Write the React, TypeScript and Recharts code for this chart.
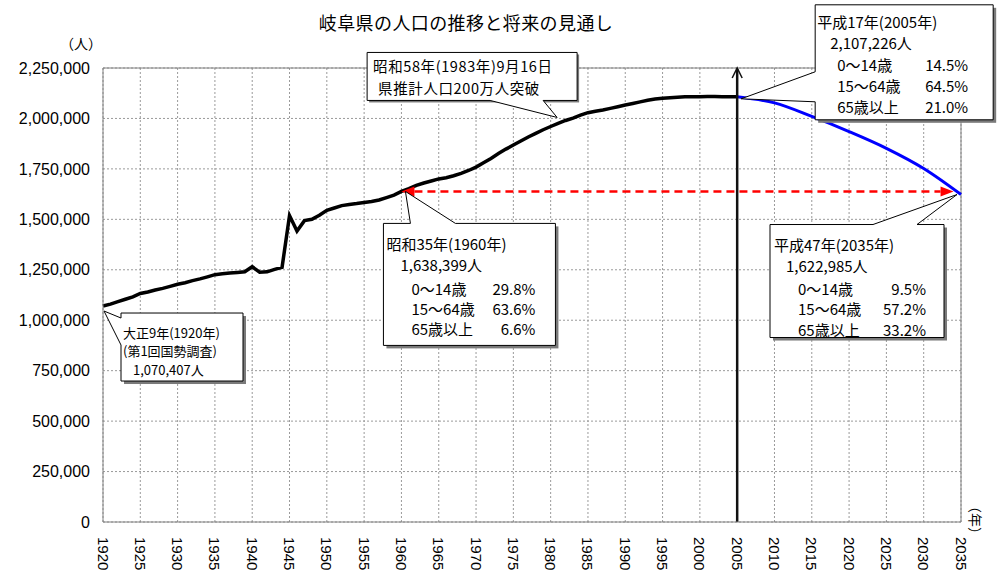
import React from "react";
import {
  CartesianGrid,
  Line,
  LineChart,
  ReferenceDot,
  ReferenceLine,
  XAxis,
  YAxis,
} from "recharts";

// 実績 (1920-2005)
const years = [
  1920, 1921, 1922, 1923, 1924, 1925, 1926, 1927, 1928, 1929,
  1930, 1931, 1932, 1933, 1934, 1935, 1936, 1937, 1938, 1939,
  1940, 1941, 1942, 1943, 1944, 1945, 1946, 1947, 1948, 1949,
  1950, 1951, 1952, 1953, 1954, 1955, 1956, 1957, 1958, 1959,
  1960, 1961, 1962, 1963, 1964, 1965, 1966, 1967, 1968, 1969,
  1970, 1971, 1972, 1973, 1974, 1975, 1976, 1977, 1978, 1979,
  1980, 1981, 1982, 1983, 1984, 1985, 1986, 1987, 1988, 1989,
  1990, 1991, 1992, 1993, 1994, 1995, 1996, 1997, 1998, 1999,
  2000, 2001, 2002, 2003, 2004, 2005,
];
const actual = [
  1070407, 1080000, 1092000, 1104000, 1116000, 1132557, 1140000, 1150000, 1158000, 1168000,
  1178405, 1186000, 1196000, 1205000, 1215000, 1225799, 1230000, 1234000, 1237000, 1240000,
  1265024, 1238000, 1240000, 1252000, 1262000, 1518649, 1442000, 1493644, 1500000, 1520000,
  1544538, 1556000, 1568000, 1574000, 1578000, 1583605, 1588000, 1596000, 1608000, 1620000,
  1638399, 1652000, 1668000, 1680000, 1690000, 1700365, 1706000, 1716000, 1728000, 1742000,
  1758954, 1780000, 1802000, 1826000, 1848000, 1867978, 1888000, 1908000, 1926000, 1944000,
  1960107, 1976000, 1990000, 2002000, 2016000, 2028536, 2036000, 2042000, 2050000, 2058000,
  2066569, 2074000, 2082000, 2090000, 2096000, 2100315, 2103000, 2105000, 2107000, 2107500,
  2107700, 2108500, 2109000, 2108000, 2107500, 2107226,
];

// 将来推計 (2005-2035)
const projYears = [2005, 2010, 2015, 2020, 2025, 2030, 2035];
const projected = [2107226, 2077000, 2010000, 1935000, 1852000, 1752000, 1622985];

const xTicks = [
  1920, 1925, 1930, 1935, 1940, 1945, 1950, 1955, 1960, 1965, 1970, 1975,
  1980, 1985, 1990, 1995, 2000, 2005, 2010, 2015, 2020, 2025, 2030, 2035,
];
const yTicks = [0, 250000, 500000, 750000, 1000000, 1250000, 1500000, 1750000, 2000000, 2250000];

// 注記
const note1920 = ["大正9年(1920年)", "(第1回国勢調査)", "1,070,407人"];
const note1983 = ["昭和58年(1983年)9月16日", "県推計人口200万人突破"];
const note1960 = {
  title: "昭和35年(1960年)",
  total: "1,638,399人",
  rows: [["0〜14歳", "29.8%"], ["15〜64歳", "63.6%"], ["65歳以上", "6.6%"]],
};
const note2005 = {
  title: "平成17年(2005年)",
  total: "2,107,226人",
  rows: [["0〜14歳", "14.5%"], ["15〜64歳", "64.5%"], ["65歳以上", "21.0%"]],
};
const note2035 = {
  title: "平成47年(2035年)",
  total: "1,622,985人",
  rows: [["0〜14歳", "9.5%"], ["15〜64歳", "57.2%"], ["65歳以上", "33.2%"]],
};

// 1960年の人口に並ぶ時点 (赤矢印)
const arrowFrom = 1960;
const arrowTo = 2034;
const arrowLevel = 1638399;

const data = [...years, ...projYears.slice(1)].map((y) => {
  const i = years.indexOf(y);
  const j = projYears.indexOf(y);
  return {
    year: y,
    actual: i >= 0 ? actual[i] : null,
    projected: j >= 0 ? projected[j] : null,
  };
});

const JP = "'Noto Sans CJK JP', 'Noto Sans', sans-serif";
const NUM = "'Liberation Sans', Arial, sans-serif";

const fmt = (v: number) => v.toLocaleString("en-US");

type Pt = [number, number];

function Bubble({ cx, cy, rect, poly, shadow = 3 }: { cx: number; cy: number; rect: number[]; poly: Pt[]; shadow?: number }) {
  const [l, t, r, b] = rect;
  return (
    <g>
      <rect x={cx + l + shadow} y={cy + t + shadow} width={r - l} height={b - t} fill="#7a7a7a" />
      <polygon
        points={poly.map(([x, y]) => `${cx + x},${cy + y}`).join(" ")}
        fill="#fff"
        stroke="#000"
        strokeWidth={1}
      />
    </g>
  );
}

function Lines({ cx, cy, items, size, spacing = 0 }: { cx: number; cy: number; items: { t: string; x: number; y: number; end?: boolean }[]; size: number; spacing?: number }) {
  return (
    <g fontFamily={JP} fontSize={size} fill="#000" letterSpacing={spacing}>
      {items.map((it, k) => (
        <text key={k} x={cx + it.x} y={cy + it.y} dominantBaseline="central" textAnchor={it.end ? "end" : "start"}>
          {it.t}
        </text>
      ))}
    </g>
  );
}

function AgeNote({ cx, cy, note, title, total, rowX, valX, rowY }: any) {
  const items = [
    { t: note.title, x: title[0], y: title[1] },
    { t: note.total, x: total[0], y: total[1] },
  ];
  note.rows.forEach((r: string[], k: number) => {
    items.push({ t: r[0], x: rowX, y: rowY[k] });
    items.push({ t: r[1], x: valX, y: rowY[k], end: true } as any);
  });
  return <Lines cx={cx} cy={cy} items={items} size={15} />;
}

function Note1920({ cx, cy }: { cx: number; cy: number }) {
  const rect = [18, 7, 140, 75];
  const poly: Pt[] = [[18, 7], [140, 7], [140, 75], [18, 75], [18, 39], [1, 5], [18, 12]];
  return (
    <g>
      <Bubble cx={cx} cy={cy} rect={rect} poly={poly} />
      <Lines
        cx={cx}
        cy={cy}
        size={13}
        items={[
          { t: note1920[0], x: 20, y: 26 },
          { t: note1920[1], x: 20, y: 44 },
          { t: note1920[2], x: 30, y: 63 },
        ]}
      />
    </g>
  );
}

function Note1983({ cx, cy }: { cx: number; cy: number }) {
  const rect = [-191, -66, 19, -18];
  const poly: Pt[] = [[-191, -66], [19, -66], [19, -18], [-15, -18], [-1, -1], [-68, -18], [-191, -18]];
  return (
    <g>
      <Bubble cx={cx} cy={cy} rect={rect} poly={poly} shadow={2} />
      <Lines
        cx={cx}
        cy={cy}
        size={14.5}
        spacing={0.6}
        items={[
          { t: note1983[0], x: -185, y: -53 },
          { t: note1983[1], x: -180, y: -31 },
        ]}
      />
    </g>
  );
}

function Note1960({ cx, cy }: { cx: number; cy: number }) {
  const rect = [-18, 32, 154, 154];
  const poly: Pt[] = [[-18, 32], [9, 32], [4, 0], [54, 32], [154, 32], [154, 154], [-18, 154]];
  return (
    <g>
      <Bubble cx={cx} cy={cy} rect={rect} poly={poly} />
      <AgeNote cx={cx} cy={cy} note={note1960} title={[-15, 52]} total={[-1, 73]} rowX={10} valX={134} rowY={[97, 117, 137]} />
    </g>
  );
}

function Note2005({ cx, cy }: { cx: number; cy: number }) {
  const rect = [78, -92, 256, 23];
  const poly: Pt[] = [[78, -92], [256, -92], [256, 23], [78, 23], [78, 5], [4, 2], [78, -25]];
  return (
    <g>
      <Bubble cx={cx} cy={cy} rect={rect} poly={poly} />
      <AgeNote cx={cx} cy={cy} note={note2005} title={[80, -75]} total={[93, -54]} rowX={100} valX={231} rowY={[-32, -11, 10]} />
    </g>
  );
}

function Note2035({ cx, cy }: { cx: number; cy: number }) {
  const rect = [-191, 30, -17, 143];
  const poly: Pt[] = [[-191, 30], [-88, 30], [-4, 0], [-44, 30], [-17, 30], [-17, 143], [-191, 143]];
  return (
    <g>
      <Bubble cx={cx} cy={cy} rect={rect} poly={poly} />
      <AgeNote cx={cx} cy={cy} note={note2035} title={[-187, 50]} total={[-175, 71]} rowX={-163} valX={-35} rowY={[94, 114, 135]} />
    </g>
  );
}

function RedArrow(p: any) {
  const { x1, x2, y1 } = p;
  const h = 13;
  return (
    <g>
      <line x1={x1 + h} y1={y1} x2={x2 - h} y2={y1} stroke="#ff0000" strokeWidth={2.5} strokeDasharray="8 5" />
      <polygon points={`${x1},${y1} ${x1 + h},${y1 - 5} ${x1 + h},${y1 + 5}`} fill="#ff0000" />
      <polygon points={`${x2},${y1} ${x2 - h},${y1 - 5} ${x2 - h},${y1 + 5}`} fill="#ff0000" />
    </g>
  );
}

function UpArrow(p: any) {
  const { x1, y1, y2 } = p;
  return (
    <g stroke="#111" fill="none">
      <line x1={x1} y1={y1} x2={x1} y2={y2 + 1} strokeWidth={2.5} />
      <polyline points={`${x1 - 5},${y2 + 10} ${x1},${y2} ${x1 + 5},${y2 + 10}`} strokeWidth={1.5} />
    </g>
  );
}

function YearTick({ x, y, payload }: any) {
  return (
    <text
      x={x}
      y={y}
      transform={`rotate(90 ${x} ${y})`}
      textAnchor="start"
      dominantBaseline="central"
      fontFamily={NUM}
      fontSize={15}
      fill="#000"
    >
      {payload.value}
    </text>
  );
}

export default function App() {
  return (
    <div style={{ position: "absolute", left: 0, top: 0, width: 999, height: 572, background: "#fff" }}>
      <div
        style={{
          position: "absolute",
          left: 0,
          width: 932,
          top: 9,
          textAlign: "center",
          fontFamily: JP,
          fontSize: 18,
          letterSpacing: 0.4,
          lineHeight: "26px",
          color: "#000",
        }}
      >
        岐阜県の人口の推移と将来の見通し
      </div>
      <div style={{ position: "absolute", left: 60, top: 34, fontFamily: JP, fontSize: 14, lineHeight: "18px" }}>
        （人）
      </div>
      <div
        style={{
          position: "absolute",
          left: 985,
          top: 499,
          fontFamily: JP,
          fontSize: 14,
          lineHeight: "18px",
          transform: "rotate(90deg)",
          transformOrigin: "0 0",
          whiteSpace: "nowrap",
        }}
      >
        （年）
      </div>
      <LineChart width={999} height={572} data={data} margin={{ top: 68, right: 38, bottom: 0, left: 13 }}>
        <CartesianGrid stroke="#9a9a9a" strokeDasharray="2 2" />
        <XAxis
          dataKey="year"
          type="number"
          domain={[1920, 2035]}
          ticks={xTicks}
          interval={0}
          height={50}
          tickSize={0}
          tickMargin={15}
          tickLine={false}
          axisLine={{ stroke: "#808080" }}
          tick={<YearTick />}
        />
        <YAxis
          type="number"
          domain={[0, 2250000]}
          ticks={yTicks}
          interval={0}
          width={90}
          tickSize={0}
          tickMargin={13}
          tickLine={false}
          axisLine={{ stroke: "#808080" }}
          tickFormatter={fmt}
          tick={{ fill: "#000", fontSize: 16, fontFamily: NUM }}
        />
        <ReferenceLine y={2250000} stroke="#808080" />
        <ReferenceLine x={2035} stroke="#808080" />
        <Line
          dataKey="actual"
          stroke="#000"
          strokeWidth={3.5}
          dot={false}
          connectNulls={false}
          isAnimationActive={false}
        />
        <Line
          type="monotone"
          dataKey="projected"
          stroke="#0000ff"
          strokeWidth={3}
          dot={false}
          connectNulls
          isAnimationActive={false}
        />
        <ReferenceLine
          segment={[{ x: arrowFrom, y: arrowLevel }, { x: arrowTo, y: arrowLevel }]}
          ifOverflow="visible"
          shape={(p: any) => <RedArrow {...p} />}
        />
        <ReferenceLine
          segment={[{ x: 2005, y: 0 }, { x: 2005, y: 2250000 }]}
          ifOverflow="visible"
          shape={(p: any) => <UpArrow {...p} />}
        />
        <ReferenceDot x={1920} y={actual[0]} ifOverflow="visible" shape={(p: any) => <Note1920 cx={p.cx} cy={p.cy} />} />
        <ReferenceDot x={1981} y={2000000} ifOverflow="visible" shape={(p: any) => <Note1983 cx={p.cx} cy={p.cy} />} />
        <ReferenceDot x={1960} y={actual[40]} ifOverflow="visible" shape={(p: any) => <Note1960 cx={p.cx} cy={p.cy} />} />
        <ReferenceDot x={2005} y={projected[0]} ifOverflow="visible" shape={(p: any) => <Note2005 cx={p.cx} cy={p.cy} />} />
        <ReferenceDot x={2035} y={projected[6]} ifOverflow="visible" shape={(p: any) => <Note2035 cx={p.cx} cy={p.cy} />} />
      </LineChart>
    </div>
  );
}
